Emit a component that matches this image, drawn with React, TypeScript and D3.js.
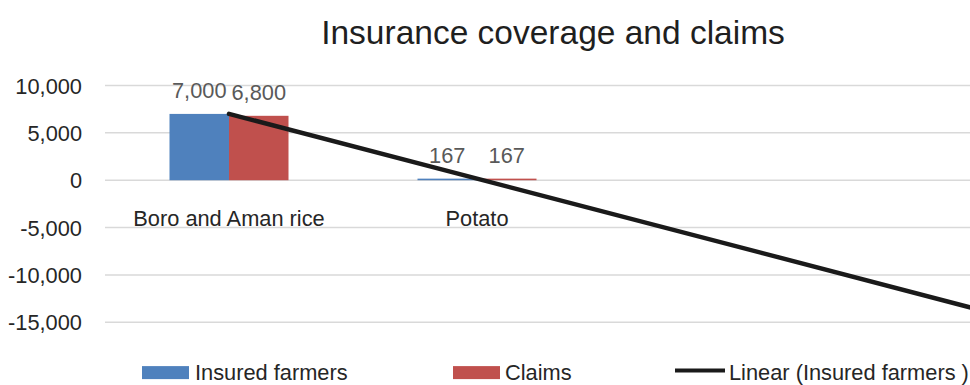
import React from "react";
import * as d3 from "d3";

const categories = ["Boro and Aman rice", "Potato"];
const insuredFarmers = [7000, 167];
const claims = [6800, 167];
const yTicks = [10000, 5000, 0, -5000, -10000, -15000];
const seriesNames = ["Insured farmers", "Claims", "Linear (Insured farmers )"];
const title = "Insurance coverage and claims";

const W = 970;
const H = 385;
const FONT = "'Liberation Sans', Arial, sans-serif";
const BLUE = "#4f81bd";
const RED = "#c0504d";
const FS = 21.8;

export default function App() {
  const x = d3.scaleLinear().domain([0.5, 4.5]).range([105, 1097]);
  const y = d3.scaleLinear().domain([-15000, 10000]).range([322.3, 85.5]);
  const barW = 59.5;
  const fmt = (v: number) => d3.format(",")(v).replace("\u2212", "-");

  // linear trend for insured farmers (x = 1..n)
  const xs = insuredFarmers.map((_, i) => i + 1);
  const mx = d3.mean(xs)!;
  const my = d3.mean(insuredFarmers)!;
  const slope =
    d3.sum(xs.map((xi, i) => (xi - mx) * (insuredFarmers[i] - my))) /
    d3.sum(xs.map((xi) => (xi - mx) ** 2));
  const intercept = my - slope * mx;
  const trendPts: [number, number][] = [1, 4.5].map((t) => [t, intercept + slope * t]);
  const line = d3
    .line<[number, number]>()
    .x((d) => x(d[0]))
    .y((d) => y(d[1]));

  const legY = 379.6;

  return (
    <div style={{ position: "absolute", left: 0, top: 0 }}>
      <svg width={W} height={H} style={{ display: "block", fontFamily: FONT }}>
        <rect width={W} height={H} fill="#fff" />
        <text x={553} y={44} textAnchor="middle" fontSize={33.5} fill="#1f1f1f">
          {title}
        </text>
        {yTicks.map((t) => (
          <g key={t}>
            <line x1={105} x2={W} y1={y(t)} y2={y(t)} stroke="#d9d9d9" strokeWidth={1.5} />
            <text x={82} y={y(t) + 8} textAnchor="end" fontSize={FS} fill="#262626">
              {fmt(t)}
            </text>
          </g>
        ))}
        {categories.map((c, i) => {
          const cx = x(i + 1);
          return (
            <g key={c}>
              <rect
                x={cx - barW}
                y={y(insuredFarmers[i])}
                width={barW}
                height={y(0) - y(insuredFarmers[i])}
                fill={BLUE}
              />
              <rect
                x={cx}
                y={y(claims[i])}
                width={barW}
                height={y(0) - y(claims[i])}
                fill={RED}
              />
              <text x={cx - barW / 2} y={y(insuredFarmers[i]) - 16} textAnchor="middle" fontSize={FS} fill="#595959">
                {fmt(insuredFarmers[i])}
              </text>
              <text x={cx + barW / 2} y={y(claims[i]) - 16} textAnchor="middle" fontSize={FS} fill="#595959">
                {fmt(claims[i])}
              </text>
              <text x={cx} y={226} textAnchor="middle" fontSize={FS} fill="#262626">
                {c}
              </text>
            </g>
          );
        })}
        <path d={line(trendPts)!} fill="none" stroke="#1a1a1a" strokeWidth={4.5} strokeLinecap="round" />
        {/* legend */}
        <rect x={142} y={legY - 13.5} width={47} height={13} fill={BLUE} />
        <text x={195} y={legY} fontSize={FS} fill="#262626">{seriesNames[0]}</text>
        <rect x={453} y={legY - 13.5} width={47} height={13} fill={RED} />
        <text x={505} y={legY} fontSize={FS} fill="#262626">{seriesNames[1]}</text>
        <line x1={675} x2={725} y1={legY - 9} y2={legY - 9} stroke="#1a1a1a" strokeWidth={4} />
        <text x={729} y={legY} fontSize={FS} fill="#262626">{seriesNames[2]}</text>
      </svg>
    </div>
  );
}
